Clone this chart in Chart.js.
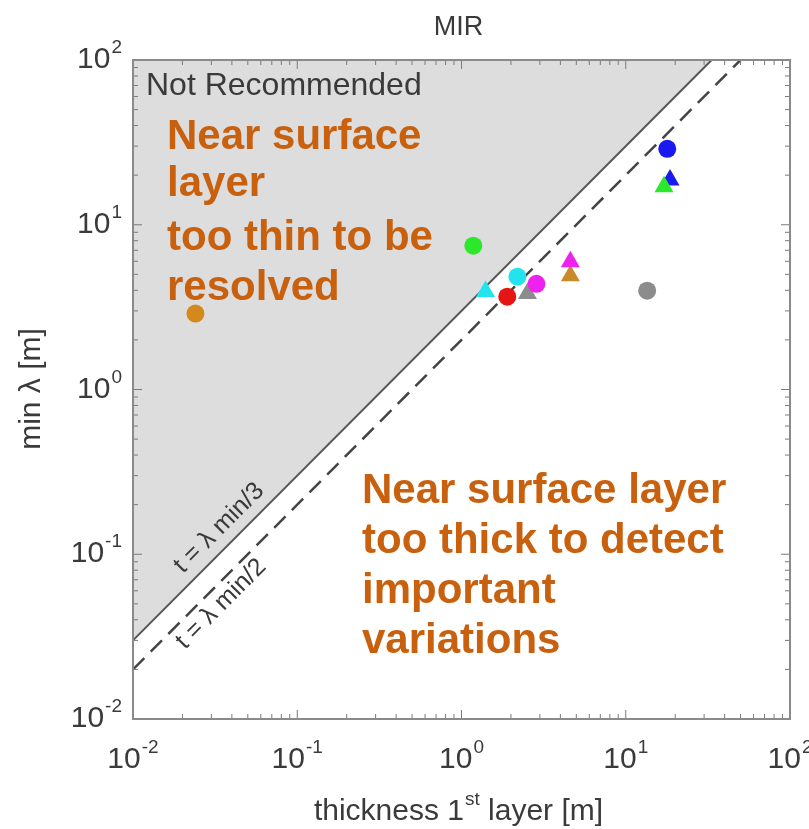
<!DOCTYPE html>
<html>
<head>
<meta charset="utf-8">
<script src="https://cdn.jsdelivr.net/npm/chart.js@4.4.1/dist/chart.umd.min.js"></script>
<style>
    html, body { margin: 0; padding: 0; background: #fff; }
    canvas { display: block; }
</style>
</head>
<body>
<canvas id="mir-chart" width="809" height="829"></canvas>
<script>
// Axis ticks (both axes are log10, 1e-2 .. 1e2)
const TICK_VALUES = [0.01, 0.1, 1, 10, 100];
const TICK_EXPONENTS = ['-2', '-1', '0', '1', '2'];

// Measured sites: first layer thickness vs. minimum wavelength
const THICKNESS  = [0.024, 1.18, 1.40, 2.19, 2.52, 1.90, 2.86, 4.60, 4.60, 13.5, 17.9, 18.6, 17.1];
const MIN_LAMBDA = [2.89, 7.46, 3.93, 4.84, 3.82, 3.66, 4.38, 4.91, 5.97, 3.98, 28.9, 18.7, 17.0];
const POINT_COLORS = ['#d4891a', '#2be82b', '#22e3ee', '#22e3ee', '#8c8c8c', '#e41515', '#ee22ee',
                      '#c98a2c', '#ee22ee', '#8c8c8c', '#1a1aee', '#1a1aee', '#2be82b'];
const POINT_SHAPES = ['circle', 'circle', 'triangle', 'circle', 'triangle', 'circle', 'circle',
                      'triangle', 'triangle', 'circle', 'circle', 'triangle', 'triangle'];

// Guide lines: t = lambda_min/3 and t = lambda_min/2
const LINE_T3_X = [0.01, 100 / 3];
const LINE_T3_Y = [0.03, 100];
const LINE_T2_X = [0.01, 50];
const LINE_T2_Y = [0.02, 100];

const TEXT_COLOR = '#3a3a3a';
const ORANGE = '#c8600e';
const FONT = '"Liberation Sans", Arial, sans-serif';

const toPoints = (xs, ys) => xs.map((x, i) => ({ x: x, y: ys[i] }));

function drawPower(ctx, x, y, exp, align) {
    ctx.font = '30px ' + FONT;
    const baseW = ctx.measureText('10').width;
    ctx.font = '19px ' + FONT;
    const supW = ctx.measureText(exp).width;
    const total = baseW + supW + 1;
    let left = x;
    if (align === 'center') left = x - total / 2;
    if (align === 'right') left = x - total;
    ctx.textAlign = 'left';
    ctx.textBaseline = 'alphabetic';
    ctx.font = '30px ' + FONT;
    ctx.fillText('10', left, y);
    ctx.font = '19px ' + FONT;
    ctx.fillText(exp, left + baseW + 1, y - 15);
}

const frameAndText = {
    id: 'frameAndText',
    afterDatasetsDraw(chart) {
        const ctx = chart.ctx;
        const area = chart.chartArea;
        const xs = chart.scales.x;
        const ys = chart.scales.y;
        ctx.save();

        // tick marks, inside, on all four sides
        ctx.strokeStyle = '#7a7a7a';
        ctx.lineWidth = 1;
        for (let n = -2; n <= 1; n++) {
            for (let k = 1; k <= 9; k++) {
                const v = k * Math.pow(10, n);
                const len = k === 1 ? 9 : 5;
                const px = xs.getPixelForValue(v);
                const py = ys.getPixelForValue(v);
                ctx.beginPath();
                ctx.moveTo(px, area.bottom); ctx.lineTo(px, area.bottom - len);
                ctx.moveTo(px, area.top); ctx.lineTo(px, area.top + len);
                ctx.moveTo(area.left, py); ctx.lineTo(area.left + len, py);
                ctx.moveTo(area.right, py); ctx.lineTo(area.right - len, py);
                ctx.stroke();
            }
        }

        // frame
        ctx.strokeStyle = '#8a8a8a';
        ctx.lineWidth = 2;
        ctx.strokeRect(area.left, area.top, area.right - area.left, area.bottom - area.top);

        // tick labels
        ctx.fillStyle = TEXT_COLOR;
        TICK_VALUES.forEach((v, i) => {
            drawPower(ctx, xs.getPixelForValue(v), area.bottom + 49, TICK_EXPONENTS[i], 'center');
            drawPower(ctx, area.left - 11, ys.getPixelForValue(v) + 8, TICK_EXPONENTS[i], 'right');
        });

        // title
        ctx.textAlign = 'center';
        ctx.font = '27px ' + FONT;
        ctx.fillText('MIR', (area.left + area.right) / 2 - 3, 35);

        // x axis label with superscript
        ctx.textAlign = 'left';
        ctx.font = '30px ' + FONT;
        const p1 = 'thickness 1', p3 = ' layer [m]';
        const w1 = ctx.measureText(p1).width;
        const w3 = ctx.measureText(p3).width;
        ctx.font = '19px ' + FONT;
        const w2 = ctx.measureText('st').width;
        let lx = 458 - (w1 + w2 + w3) / 2;
        ctx.font = '30px ' + FONT;
        ctx.fillText(p1, lx, 820);
        ctx.font = '19px ' + FONT;
        ctx.fillText('st', lx + w1 + 1, 805);
        ctx.font = '30px ' + FONT;
        ctx.fillText(p3, lx + w1 + w2 + 1, 820);

        // y axis label
        ctx.save();
        ctx.translate(40, 389);
        ctx.rotate(-Math.PI / 2);
        ctx.textAlign = 'center';
        ctx.font = '30px ' + FONT;
        ctx.fillText('min λ [m]', 0, 0);
        ctx.restore();

        // region label
        ctx.textAlign = 'left';
        ctx.font = '32px ' + FONT;
        ctx.fillText('Not Recommended', 146, 95);

        // line labels
        ctx.font = '25px ' + FONT;
        ctx.textAlign = 'center';
        ctx.save();
        ctx.translate(224, 533);
        ctx.rotate(-Math.PI / 4);
        ctx.fillText('t = λ min/3', 0, 0);
        ctx.restore();
        ctx.save();
        ctx.translate(226, 609);
        ctx.rotate(-Math.PI / 4);
        ctx.fillText('t = λ min/2', 0, 0);
        ctx.restore();

        // annotations
        ctx.fillStyle = ORANGE;
        ctx.textAlign = 'left';
        ctx.font = 'bold 42px ' + FONT;
        ['Near surface', 'layer', 'too thin to be', 'resolved'].forEach((t, i) => {
            ctx.fillText(t, 167, [149, 196, 250, 300][i]);
        });
        ['Near surface layer', 'too thick to detect', 'important', 'variations'].forEach((t, i) => {
            ctx.fillText(t, 362, 503 + i * 50);
        });

        ctx.restore();
    }
};

new Chart(document.getElementById('mir-chart'), {
    type: 'scatter',
    data: {
        datasets: [
            {
                label: 'sites',
                data: toPoints(THICKNESS, MIN_LAMBDA),
                pointStyle: POINT_SHAPES,
                pointRadius: POINT_SHAPES.map(s => s === 'triangle' ? 11 : 9),
                pointBackgroundColor: POINT_COLORS,
                pointBorderWidth: 0,
                order: 0
            },
            {
                type: 'line',
                label: 't = λ min/2',
                data: toPoints(LINE_T2_X, LINE_T2_Y),
                borderColor: '#444',
                borderWidth: 2.5,
                borderDash: [16, 9],
                pointRadius: 0,
                fill: false,
                order: 1
            },
            {
                type: 'line',
                label: 't = λ min/3',
                data: toPoints(LINE_T3_X, LINE_T3_Y),
                borderColor: '#555',
                borderWidth: 2,
                backgroundColor: '#dddddd',
                pointRadius: 0,
                fill: 'end',
                order: 2
            }
        ]
    },
    options: {
        responsive: false,
        animation: false,
        layout: { padding: { left: 133, right: 19, top: 60, bottom: 110 } },
        scales: {
            x: { type: 'logarithmic', min: 0.01, max: 100, display: false },
            y: { type: 'logarithmic', min: 0.01, max: 100, display: false }
        },
        plugins: {
            legend: { display: false },
            tooltip: { enabled: false }
        }
    },
    plugins: [frameAndText]
});
</script>
</body>
</html>
